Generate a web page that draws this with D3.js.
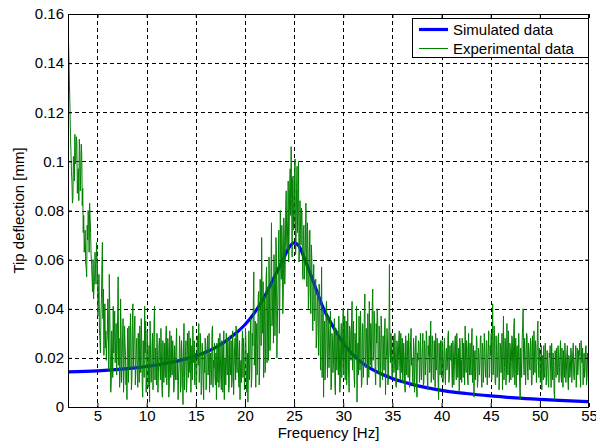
<!DOCTYPE html>
<html><head><meta charset="utf-8">
<script src="https://cdn.jsdelivr.net/npm/d3@7"></script>
<style>body{margin:0;background:#fff} text{font-family:"Liberation Sans",Arial,sans-serif;font-size:15px;fill:#000}</style>
</head><body><svg id="c" width="596" height="446"></svg>
<script>
// ---- data ----
const xTicks = [5,10,15,20,25,30,35,40,45,50,55];
const xTickLabels = ["5","10","15","20","25","30","35","40","45","50","55"];
const yTicks = [0,0.02,0.04,0.06,0.08,0.1,0.12,0.14,0.16];
const yTickLabels = ["0","0.02","0.04","0.06","0.08","0.1","0.12","0.14","0.16"];
const seriesNames = ["Simulated data","Experimental data"];

const simFreq = [2,5,8,10,12,14,15,16,17,18,19,20,21,22,23,24,24.5,25,25.5,26,27,28,29,30,31,32,33,34,35,37,40,42.5,45,47.5,50,52.5,55];
const simVal  = [0.0143,0.0147,0.0156,0.0165,0.0178,0.0196,0.0208,0.0223,0.0242,0.0267,0.0298,0.0335,0.0385,0.0450,0.0530,0.0610,0.0650,0.0668,0.0655,0.0610,0.0505,0.0400,0.0325,0.0260,0.0212,0.0177,0.0152,0.0132,0.0116,0.0092,0.0068,0.0055,0.0045,0.0037,0.0031,0.0026,0.0022];

// experimental spectrum, values at 2.0, 2.1, ... 55.0 Hz
const expStart = 2.0, expStep = 0.1;
const expVal = [
0.155,0.141,0.122,0.104,0.092,0.085,0.097,0.111,0.101,0.108,
0.092,0.084,0.104,0.096,0.103,0.089,0.078,0.067,0.058,0.053,
0.068,0.076,0.083,0.071,0.058,0.047,0.044,0.051,0.056,0.067,
0.058,0.044,0.031,0.022,0.044,0.067,0.048,0.030,0.024,0.019,
0.029,0.037,0.054,0.022,0.010,0.025,0.041,0.030,0.018,0.034,
0.022,0.053,0.028,0.012,0.031,0.019,0.036,0.014,0.026,0.009,
0.003,0.024,0.033,0.016,0.029,0.011,0.042,0.025,0.037,0.017,
0.028,0.008,0.021,0.033,0.014,0.026,0.004,0.019,0.041,0.035,
0.012,0.027,0.016,0.002,0.022,0.013,0.030,0.019,0.041,0.024,
0.009,0.021,0.014,0.028,0.011,0.023,0.004,0.018,0.026,0.012,
0.033,0.017,0.024,0.008,0.020,0.029,0.013,0.022,0.007,0.019,
0.026,0.011,0.003,0.017,0.024,0.009,0.021,0.001,0.034,0.016,
0.027,0.010,0.022,0.031,0.014,0.006,0.025,0.033,0.018,0.009,
0.021,0.012,0.027,0.034,0.016,0.023,0.008,0.019,0.003,0.014,
0.025,0.011,0.029,0.017,0.006,0.022,0.013,0.033,0.019,0.026,
0.009,0.003,0.018,0.028,0.012,0.021,0.007,0.024,0.015,0.003,
0.020,0.030,0.013,0.025,0.009,0.018,0.027,0.011,0.022,0.016,
0.028,0.033,0.014,0.024,0.008,0.003,0.019,0.026,0.012,0.021,
0.014,0.027,0.006,0.002,0.031,0.018,0.036,0.012,0.025,0.055,
0.021,0.008,0.034,0.026,0.047,0.017,0.039,0.069,0.030,0.012,
0.045,0.024,0.057,0.036,0.019,0.042,0.030,0.075,0.038,0.026,
0.052,0.041,0.064,0.035,0.058,0.030,0.080,0.052,0.067,0.045,
0.071,0.058,0.088,0.064,0.092,0.072,0.097,0.106,0.061,0.094,
0.075,0.101,0.068,0.098,0.082,0.059,0.084,0.066,0.079,0.052,
0.074,0.058,0.083,0.049,0.070,0.045,0.072,0.038,0.061,0.031,
0.058,0.036,0.052,0.029,0.047,0.021,0.044,0.015,0.057,0.026,
0.004,0.035,0.019,0.043,0.012,0.031,0.024,0.039,0.008,0.028,
0.017,0.036,0.005,0.022,0.031,0.013,0.027,0.009,0.034,0.018,
0.040,0.022,0.011,0.035,0.017,0.028,0.006,0.031,0.019,0.043,
0.024,0.013,0.030,0.020,0.002,0.026,0.037,0.015,0.029,0.010,
0.033,0.021,0.046,0.018,0.027,0.038,0.012,0.025,0.034,0.016,
0.048,0.023,0.031,0.009,0.026,0.036,0.014,0.028,0.019,0.033,
0.011,0.024,0.030,0.005,0.021,0.027,0.013,0.058,0.018,0.025,
0.012,0.029,0.017,0.023,0.008,0.026,0.019,0.031,0.011,0.024,
0.028,0.014,0.021,0.006,0.018,0.027,0.012,0.025,0.016,0.032,
0.020,0.009,0.023,0.015,0.029,0.004,0.019,0.026,0.013,0.022,
0.017,0.030,0.010,0.024,0.019,0.027,0.007,0.021,0.014,0.035,
0.018,0.025,0.011,0.022,0.030,0.015,0.024,0.003,0.019,0.027,
0.012,0.021,0.016,0.028,0.009,0.024,0.018,0.031,0.013,0.020,
0.026,0.008,0.023,0.015,0.029,0.011,0.022,0.017,0.006,0.025,
0.019,0.028,0.012,0.021,0.033,0.014,0.024,0.009,0.018,0.026,
0.013,0.032,0.020,0.004,0.023,0.016,0.027,0.011,0.021,0.018,
0.029,0.008,0.024,0.015,0.022,0.012,0.027,0.019,0.031,0.014,
0.021,0.011,0.042,0.018,0.026,0.009,0.023,0.015,0.030,0.012,
0.025,0.019,0.007,0.037,0.016,0.027,0.013,0.022,0.031,0.010,
0.024,0.018,0.028,0.014,0.036,0.020,0.008,0.025,0.016,0.022,
0.003,0.019,0.027,0.040,0.013,0.021,0.017,0.029,0.011,0.023,
0.015,0.026,0.009,0.020,0.031,0.014,0.024,0.018,0.035,0.012,
0.021,0.016,0.007,0.019,0.025,0.012,0.022,0.015,0.018,0.008,
0.020,0.014,0.026,0.011,0.017,0.003,0.019,0.024,0.013,0.021,
0.016,0.027,0.010,0.018,0.023,0.012,0.020,0.015,0.025,0.007,
0.019,0.014,0.022,0.017,0.026,0.011,0.020,0.008,0.024,0.016,
0.021,0.013,0.027,0.018,0.009,0.022,0.015,0.025,0.012,0.019,
0.016
];
// experimental spectrum, values at 2.05, 2.15, ... 54.95 Hz
const expMidStart = 2.05;
const expMid = [
0.149,0.131,0.110,0.096,0.083,0.102,0.092,0.099,0.110,0.087,
0.097,0.109,0.088,0.107,0.082,0.071,0.063,0.072,0.057,0.074,
0.080,0.063,0.077,0.062,0.052,0.060,0.049,0.063,0.050,0.061,
0.037,0.054,0.027,0.038,0.058,0.036,0.021,0.042,0.031,0.026,
0.044,0.015,0.040,0.006,0.031,0.012,0.022,0.039,0.027,0.013,
0.038,0.017,0.008,0.044,0.010,0.028,0.006,0.033,0.021,0.015,
0.032,0.010,0.020,0.038,0.007,0.034,0.016,0.030,0.009,0.023,
0.013,0.030,0.010,0.024,0.036,0.009,0.027,0.012,0.022,0.006,
0.031,0.008,0.025,0.035,0.010,0.026,0.007,0.033,0.011,0.017,
0.030,0.006,0.025,0.017,0.032,0.008,0.027,0.010,0.015,0.029,
0.009,0.028,0.004,0.031,0.012,0.016,0.027,0.006,0.025,0.011,
0.032,0.018,0.013,0.029,0.006,0.027,0.012,0.024,0.007,0.021,
0.006,0.030,0.012,0.019,0.028,0.017,0.011,0.021,0.027,0.022,
0.008,0.029,0.017,0.010,0.030,0.005,0.026,0.012,0.022,0.028,
0.007,0.024,0.013,0.030,0.021,0.009,0.031,0.008,0.016,0.012,
0.022,0.026,0.010,0.008,0.030,0.011,0.027,0.006,0.031,0.019,
0.009,0.017,0.028,0.006,0.029,0.013,0.008,0.031,0.005,0.024,
0.011,0.019,0.030,0.012,0.027,0.016,0.010,0.031,0.028,0.007,
0.032,0.010,0.022,0.015,0.011,0.029,0.008,0.030,0.041,0.017,
0.035,0.027,0.013,0.045,0.009,0.052,0.025,0.044,0.051,0.033,
0.014,0.052,0.018,0.049,0.061,0.023,0.055,0.033,0.050,0.062,
0.029,0.069,0.020,0.046,0.072,0.043,0.056,0.074,0.038,0.077,
0.050,0.082,0.066,0.076,0.059,0.089,0.078,0.085,0.093,0.072,
0.096,0.062,0.089,0.071,0.100,0.064,0.075,0.081,0.058,0.072,
0.052,0.067,0.062,0.075,0.040,0.063,0.048,0.066,0.043,0.051,
0.035,0.049,0.024,0.041,0.032,0.050,0.026,0.038,0.012,0.040,
0.029,0.011,0.040,0.022,0.037,0.016,0.033,0.007,0.030,0.014,
0.030,0.009,0.032,0.015,0.024,0.037,0.006,0.029,0.012,0.033,
0.013,0.037,0.025,0.009,0.040,0.012,0.033,0.021,0.036,0.015,
0.035,0.008,0.024,0.041,0.019,0.013,0.029,0.039,0.008,0.034,
0.012,0.040,0.016,0.032,0.009,0.022,0.043,0.017,0.030,0.041,
0.019,0.039,0.014,0.034,0.040,0.017,0.033,0.008,0.037,0.015,
0.029,0.015,0.036,0.019,0.032,0.009,0.031,0.022,0.030,0.013,
0.022,0.014,0.030,0.009,0.027,0.015,0.028,0.016,0.030,0.014,
0.010,0.026,0.009,0.029,0.013,0.020,0.030,0.008,0.027,0.017,
0.012,0.028,0.006,0.026,0.011,0.022,0.027,0.010,0.030,0.011,
0.025,0.009,0.027,0.013,0.031,0.012,0.025,0.029,0.022,0.010,
0.029,0.012,0.027,0.008,0.017,0.028,0.010,0.026,0.013,0.022,
0.027,0.010,0.024,0.013,0.022,0.015,0.029,0.010,0.025,0.019,
0.014,0.027,0.009,0.026,0.017,0.030,0.012,0.024,0.028,0.011,
0.010,0.023,0.026,0.009,0.019,0.027,0.011,0.030,0.013,0.017,
0.027,0.010,0.025,0.018,0.011,0.029,0.008,0.024,0.013,0.028,
0.012,0.026,0.010,0.030,0.016,0.027,0.009,0.023,0.012,0.025,
0.030,0.025,0.013,0.033,0.010,0.029,0.012,0.028,0.007,0.026,
0.014,0.030,0.022,0.011,0.028,0.009,0.034,0.013,0.020,0.026,
0.011,0.029,0.012,0.032,0.009,0.028,0.024,0.013,0.030,0.009,
0.024,0.012,0.033,0.018,0.028,0.009,0.030,0.014,0.026,0.017,
0.028,0.009,0.029,0.013,0.022,0.027,0.010,0.030,0.019,0.024,
0.010,0.025,0.021,0.011,0.014,0.026,0.009,0.023,0.010,0.022,
0.025,0.008,0.018,0.022,0.006,0.023,0.012,0.016,0.025,0.010,
0.022,0.013,0.024,0.008,0.015,0.026,0.010,0.022,0.011,0.021,
0.012,0.024,0.010,0.022,0.013,0.018,0.025,0.015,0.013,0.023,
0.026,0.008,0.019,0.024,0.016,0.012,0.024,0.009,0.022,0.013
];

// ---- layout ----
const L = 68, R = 589, T = 14, B = 407;
const svg = d3.select("#c");
const x = d3.scaleLinear().domain([2, 55]).range([L, R]);
const y = d3.scaleLinear().domain([0, 0.16]).range([B, T]);

// grid
const grid = svg.append("g").attr("stroke", "#000").attr("stroke-width", 1)
  .attr("stroke-dasharray", "4,3").attr("shape-rendering", "crispEdges");
xTicks.filter(v => v < 55).forEach(v => {
  grid.append("line").attr("x1", Math.round(x(v)) + 0.5).attr("x2", Math.round(x(v)) + 0.5)
    .attr("y1", T).attr("y2", B);
});
yTicks.filter(v => v > 0 && v < 0.16).forEach(v => {
  grid.append("line").attr("y1", Math.round(y(v)) + 0.5).attr("y2", Math.round(y(v)) + 0.5)
    .attr("x1", L).attr("x2", R);
});

// clip
svg.append("clipPath").attr("id", "clip").append("rect")
  .attr("x", L).attr("y", T).attr("width", R - L).attr("height", B - T);

const simData = simFreq.map((f, i) => [f, simVal[i]]);
const expData = [];
expVal.forEach((v, i) => {
  expData.push([expStart + i * expStep, v]);
  if (i < expMid.length) expData.push([expMidStart + i * expStep, expMid[i]]);
});

svg.append("path").datum(simData).attr("clip-path", "url(#clip)")
  .attr("fill", "none").attr("stroke", "#0000ff").attr("stroke-width", 3.2)
  .attr("d", d3.line().x(d => x(d[0])).y(d => y(d[1])).curve(d3.curveMonotoneX));
svg.append("path").datum(expData).attr("clip-path", "url(#clip)")
  .attr("fill", "none").attr("stroke", "#008000").attr("stroke-width", 1)
  .attr("d", d3.line().x(d => x(d[0])).y(d => y(d[1])));

// axes (inward ticks), box
const tl = 4;
const axB = svg.append("g").attr("transform", `translate(0,${B})`)
  .call(d3.axisBottom(x).tickValues(xTicks).tickFormat((d, i) => xTickLabels[i]).tickSizeInner(-tl).tickSizeOuter(0).tickPadding(3));
const axT = svg.append("g").attr("transform", `translate(0,${T})`)
  .call(d3.axisTop(x).tickValues(xTicks).tickFormat("").tickSizeInner(-tl).tickSizeOuter(0));
const axL = svg.append("g").attr("transform", `translate(${L},0)`)
  .call(d3.axisLeft(y).tickValues(yTicks).tickFormat((d, i) => yTickLabels[i]).tickSizeInner(-tl).tickSizeOuter(0).tickPadding(4));
const axR = svg.append("g").attr("transform", `translate(${R},0)`)
  .call(d3.axisRight(y).tickValues(yTicks).tickFormat("").tickSizeInner(-tl).tickSizeOuter(0));
[axB, axT, axL, axR].forEach(a => {
  a.select(".domain").remove();
  a.selectAll("line").attr("stroke", "#000");
  a.selectAll("text").attr("font-family", '"Liberation Sans",Arial,sans-serif').attr("font-size", 15).attr("fill", "#000");
});
svg.append("rect").attr("x", L + 0.5).attr("y", T + 0.5).attr("width", R - L - 1).attr("height", B - T)
  .attr("fill", "none").attr("stroke", "#000").attr("stroke-width", 1).attr("shape-rendering", "crispEdges");

// axis labels
svg.append("text").attr("x", (L + R) / 2).attr("y", 438).attr("text-anchor", "middle").text("Frequency [Hz]");
svg.append("text").attr("transform", `translate(24,${(T + B) / 2}) rotate(-90)`).attr("text-anchor", "middle").text("Tip deflection [mm]");

// legend
const lg = svg.append("g");
lg.append("rect").attr("x", 412.5).attr("y", 18.5).attr("width", 176).attr("height", 39)
  .attr("fill", "#fff").attr("stroke", "#000").attr("stroke-width", 1);
const legColors = ["#0000ff", "#008000"], legW = [3.2, 1], legY = [29.5, 48.5];
seriesNames.forEach((n, i) => {
  lg.append("line").attr("x1", 419).attr("x2", 448).attr("y1", legY[i]).attr("y2", legY[i])
    .attr("stroke", legColors[i]).attr("stroke-width", legW[i]);
  lg.append("text").attr("x", 453).attr("y", legY[i] + 5.5).attr("font-size", 15.5).text(n);
});
</script></body></html>
